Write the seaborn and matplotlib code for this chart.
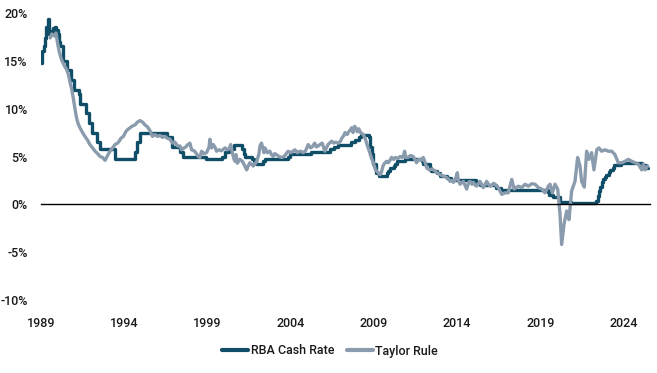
import matplotlib
matplotlib.use('Agg')
import matplotlib.pyplot as plt
import seaborn as sns

# RBA cash rate: date (decimal year) and the rate that holds from that date
rba_dates = [1989.0, 1989.08, 1989.17, 1989.25, 1989.33, 1989.42, 1989.5, 1989.58, 1989.67,
             1989.75, 1989.83, 1989.92, 1990.0, 1990.08, 1990.17, 1990.33, 1990.58, 1990.8,
             1990.96, 1991.29, 1991.37, 1991.71, 1991.87, 1992.04, 1992.37, 1992.54, 1993.45,
             1994.62, 1994.79, 1994.96, 1996.58, 1996.87, 1997.37, 1997.54, 1998.92, 1999.87,
             2000.08, 2000.29, 2000.62, 2001.08, 2001.17, 2001.25, 2001.71, 2001.79, 2001.92,
             2002.37, 2002.45, 2003.87, 2003.96, 2005.21, 2006.37, 2006.62, 2006.87, 2007.62,
             2007.87, 2008.12, 2008.21, 2008.71, 2008.79, 2008.87, 2008.96, 2009.12, 2009.29,
             2009.79, 2009.87, 2009.96, 2010.21, 2010.29, 2010.37, 2010.87, 2011.87, 2011.96,
             2012.37, 2012.46, 2012.79, 2012.96, 2013.37, 2013.62, 2015.12, 2015.37, 2016.37,
             2016.62, 2019.46, 2019.54, 2019.79, 2020.21, 2020.87, 2022.37, 2022.46, 2022.54,
             2022.62, 2022.71, 2022.79, 2022.87, 2022.96, 2023.12, 2023.21, 2023.37, 2023.46,
             2023.87, 2025.12, 2025.37, 2025.5]
rba_rates = [14.8, 16.0, 16.6, 17.4, 18.5, 19.4, 17.8, 18.1, 18.0,
             18.4, 18.5, 18.2, 17.8, 17.0, 16.5, 15.0, 14.0, 13.0,
             12.0, 11.5, 10.5, 9.5, 8.5, 7.5, 6.5, 5.75, 4.75,
             5.5, 6.5, 7.5, 7.0, 6.0, 5.5, 5.0, 4.75, 5.0,
             5.5, 5.75, 6.25, 5.75, 5.25, 5.0, 4.75, 4.5, 4.25,
             4.5, 4.75, 5.0, 5.25, 5.5, 5.75, 6.0, 6.25, 6.5,
             6.75, 7.0, 7.25, 7.0, 6.0, 5.25, 4.25, 3.25, 3.0,
             3.25, 3.5, 3.75, 4.0, 4.25, 4.5, 4.75, 4.5, 4.25,
             3.75, 3.5, 3.25, 3.0, 2.75, 2.5, 2.25, 2.0, 1.75,
             1.5, 1.25, 1.0, 0.75, 0.25, 0.1, 0.35, 0.85, 1.35,
             1.85, 2.35, 2.6, 2.85, 3.1, 3.35, 3.6, 3.85, 4.1,
             4.35, 4.1, 3.85, 3.85]

# Taylor rule estimate
taylor_dates = [1989.55, 1989.65, 1989.8, 1989.9, 1990.0, 1990.1, 1990.24, 1990.4, 1990.54,
                1990.64, 1990.74, 1990.85, 1990.94, 1991.04, 1991.14, 1991.24, 1991.34, 1991.5,
                1991.64, 1991.8, 1991.94, 1992.1, 1992.25, 1992.4, 1992.55, 1992.7, 1992.85,
                1993.0, 1993.15, 1993.3, 1993.45, 1993.6, 1993.7, 1993.8, 1993.95, 1994.1,
                1994.2, 1994.35, 1994.5, 1994.65, 1994.8, 1994.95, 1995.1, 1995.25, 1995.4,
                1995.55, 1995.7, 1995.85, 1996.0, 1996.15, 1996.3, 1996.45, 1996.6, 1996.75,
                1996.9, 1997.05, 1997.2, 1997.35, 1997.45, 1997.6, 1997.7, 1997.8, 1997.95,
                1998.05, 1998.2, 1998.3, 1998.45, 1998.55, 1998.65, 1998.8, 1998.95, 1999.1,
                1999.15, 1999.25, 1999.35, 1999.45, 1999.55, 1999.7, 1999.85, 2000.06, 2000.2,
                2000.3, 2000.4, 2000.5, 2000.6, 2000.66, 2000.72, 2000.8, 2000.95, 2001.1,
                2001.25, 2001.36, 2001.45, 2001.55, 2001.65, 2001.75, 2001.9, 2001.97, 2002.1,
                2002.16, 2002.25, 2002.35, 2002.4, 2002.46, 2002.6, 2002.75, 2002.85, 2002.95,
                2003.05, 2003.15, 2003.3, 2003.46, 2003.6, 2003.7, 2003.85, 2004.0, 2004.1,
                2004.26, 2004.4, 2004.5, 2004.6, 2004.75, 2004.9, 2005.06, 2005.2, 2005.3,
                2005.45, 2005.55, 2005.65, 2005.8, 2005.9, 2006.06, 2006.15, 2006.25, 2006.4,
                2006.47, 2006.6, 2006.7, 2006.87, 2007.0, 2007.07, 2007.2, 2007.27, 2007.4,
                2007.5, 2007.6, 2007.67, 2007.75, 2007.85, 2007.95, 2008.0, 2008.1, 2008.2,
                2008.37, 2008.5, 2008.6, 2008.7, 2008.85, 2008.97, 2009.1, 2009.27, 2009.37,
                2009.45, 2009.55, 2009.65, 2009.77, 2009.87, 2009.97, 2010.07, 2010.2, 2010.3,
                2010.45, 2010.58, 2010.7, 2010.77, 2010.85, 2010.92, 2011.05, 2011.2, 2011.37,
                2011.5, 2011.57, 2011.7, 2011.85, 2011.97, 2012.1, 2012.18, 2012.35, 2012.5,
                2012.58, 2012.68, 2012.78, 2012.9, 2012.98, 2013.1, 2013.2, 2013.38, 2013.5,
                2013.58, 2013.7, 2013.78, 2013.9, 2014.02, 2014.08, 2014.18, 2014.3, 2014.38,
                2014.48, 2014.58, 2014.7, 2014.78, 2014.9, 2014.98, 2015.1, 2015.18, 2015.3,
                2015.38, 2015.5, 2015.58, 2015.7, 2015.78, 2015.9, 2015.98, 2016.1, 2016.2,
                2016.28, 2016.48, 2016.69, 2016.88, 2017.08, 2017.29, 2017.44, 2017.68, 2017.89,
                2018.09, 2018.28, 2018.49, 2018.69, 2018.89, 2019.09, 2019.29, 2019.49, 2019.59,
                2019.73, 2019.89, 2020.05, 2020.19, 2020.29, 2020.43, 2020.59, 2020.73, 2020.89,
                2021.09, 2021.25, 2021.39, 2021.49, 2021.65, 2021.79, 2021.93, 2022.09, 2022.23,
                2022.4, 2022.53, 2022.69, 2022.89, 2023.09, 2023.3, 2023.49, 2023.69, 2023.9,
                2024.1, 2024.3, 2024.5, 2024.7, 2024.9, 2025.1, 2025.2, 2025.3, 2025.46]
taylor_rates = [17.4, 17.8, 17.6, 17.9, 16.8, 15.9, 15.1, 14.5, 14.1,
                13.6, 12.8, 12.0, 11.1, 10.0, 9.0, 8.4, 8.0, 7.5,
                7.1, 6.7, 6.25, 5.9, 5.55, 5.3, 5.0, 4.9, 4.6,
                5.1, 5.55, 5.9, 6.25, 6.4, 6.6, 6.9, 7.1, 7.6,
                7.8, 8.0, 8.2, 8.3, 8.6, 8.75, 8.6, 8.3, 8.1,
                7.7, 7.1, 7.3, 7.1, 7.2, 7.0, 7.1, 6.9, 6.8,
                6.4, 6.5, 6.1, 6.1, 5.7, 5.9, 6.0, 6.2, 6.4,
                5.7, 5.6, 5.4, 5.0, 4.9, 5.55, 5.3, 5.4, 6.0,
                6.8, 5.9, 6.25, 6.0, 5.55, 5.7, 5.6, 5.9, 5.7,
                5.8, 6.25, 5.4, 4.7, 4.5, 5.2, 4.3, 4.7, 4.5,
                4.0, 3.6, 4.0, 4.35, 4.2, 4.0, 4.3, 4.5, 5.3,
                6.1, 6.4, 5.8, 5.4, 5.9, 5.4, 5.55, 5.2, 5.0,
                5.3, 5.2, 5.0, 4.9, 5.0, 5.2, 5.55, 5.4, 5.5,
                5.7, 5.4, 5.5, 5.55, 5.4, 5.6, 6.25, 5.9, 6.0,
                6.4, 6.0, 6.1, 6.3, 6.4, 5.55, 5.9, 6.25, 6.5,
                6.6, 6.4, 6.5, 6.4, 6.6, 6.9, 7.2, 7.5, 7.3,
                7.6, 7.8, 8.0, 7.5, 8.15, 7.9, 7.6, 7.9, 7.5,
                7.3, 6.8, 6.2, 5.7, 4.9, 4.35, 3.6, 3.3, 3.1,
                3.3, 4.0, 4.3, 4.5, 4.35, 4.6, 4.9, 4.7, 4.9,
                4.8, 5.0, 4.9, 5.0, 5.55, 4.9, 4.9, 5.1, 5.0,
                4.6, 4.35, 4.7, 4.6, 4.9, 4.3, 3.8, 3.6, 3.7,
                3.6, 3.5, 3.3, 3.2, 3.1, 3.0, 2.95, 2.8, 2.6,
                2.4, 2.5, 2.3, 2.6, 3.3, 2.5, 2.1, 2.3, 2.4,
                2.0, 1.6, 2.3, 2.4, 2.1, 2.3, 2.0, 1.9, 2.2,
                2.4, 2.0, 1.75, 2.1, 2.4, 2.1, 1.9, 2.0, 2.2,
                2.1, 1.75, 1.04, 1.2, 1.2, 2.6, 1.6, 1.9, 1.75,
                2.1, 1.9, 2.15, 2.1, 1.75, 1.6, 1.2, 1.9, 2.1,
                1.2, 2.1, 1.6, -1.0, -4.2, -2.1, -0.7, -1.6, 1.4,
                2.4, 4.9, 4.0, 2.4, 1.8, 5.55, 4.7, 5.4, 3.6,
                5.7, 5.9, 5.55, 5.7, 5.55, 5.55, 5.2, 4.35, 4.35,
                4.5, 4.7, 4.5, 4.35, 4.2, 3.6, 4.2, 3.6, 4.0]

year_ticks = [1989, 1994, 1999, 2004, 2009, 2014, 2019, 2024]
pct_ticks = [-10, -5, 0, 5, 10, 15, 20]

sns.set_style('white')
plt.rcParams['font.family'] = ['Roboto', 'DejaVu Sans']
plt.rcParams['font.weight'] = 'medium'
plt.rcParams['font.size'] = 9

rba_color = '#104d66'
taylor_color = '#8a9bad'
text_color = '#1a1a1a'

fig = plt.figure(figsize=(6.57, 3.73), dpi=100)
ax = fig.add_axes([41 / 657, 1 - 300 / 373, (650 - 41) / 657, (300 - 13) / 373])

sns.lineplot(x=rba_dates, y=rba_rates, drawstyle='steps-post', color=rba_color,
             lw=2.4, label='RBA Cash Rate', ax=ax, legend=False)
sns.lineplot(x=taylor_dates, y=taylor_rates, color=taylor_color,
             lw=2.4, label='Taylor Rule', ax=ax, legend=False)

ax.set_xlim(1989, 1989 + (650 - 41) / 16.64)
ax.set_ylim(-10, 20)
ax.set_xlabel('')
ax.set_ylabel('')

for side in ['top', 'right', 'left']:
    ax.spines[side].set_visible(False)
ax.spines['bottom'].set_position(('data', 0))
ax.spines['bottom'].set_color('black')
ax.spines['bottom'].set_linewidth(1.0)

ax.set_xticks(year_ticks)
ax.tick_params(axis='x', direction='out', length=4, width=1, color='black',
               labelbottom=False)

ax.set_yticks(pct_ticks)
ax.set_yticklabels([f'{v}%' for v in pct_ticks])
ax.tick_params(axis='y', length=0, pad=9.5, labelcolor=text_color)

# year labels sit under the plot area, not under the zero line
sec = ax.secondary_xaxis('bottom')
sec.set_xticks(year_ticks)
sec.set_xticklabels([str(y) for y in year_ticks])
sec.tick_params(length=0, pad=12, labelcolor=text_color)
sec.spines['bottom'].set_visible(False)

handles, labels = ax.get_legend_handles_labels()
leg = fig.legend(handles, labels, loc='center', bbox_to_anchor=(330 / 657, 1 - 351 / 373),
                 ncol=2, frameon=False, handlelength=2.1, handletextpad=0.2,
                 columnspacing=1.0, fontsize=9)
for line in leg.get_lines():
    line.set_linewidth(3)
for t in leg.get_texts():
    t.set_color(text_color)

fig.savefig('out.png', dpi=100)
